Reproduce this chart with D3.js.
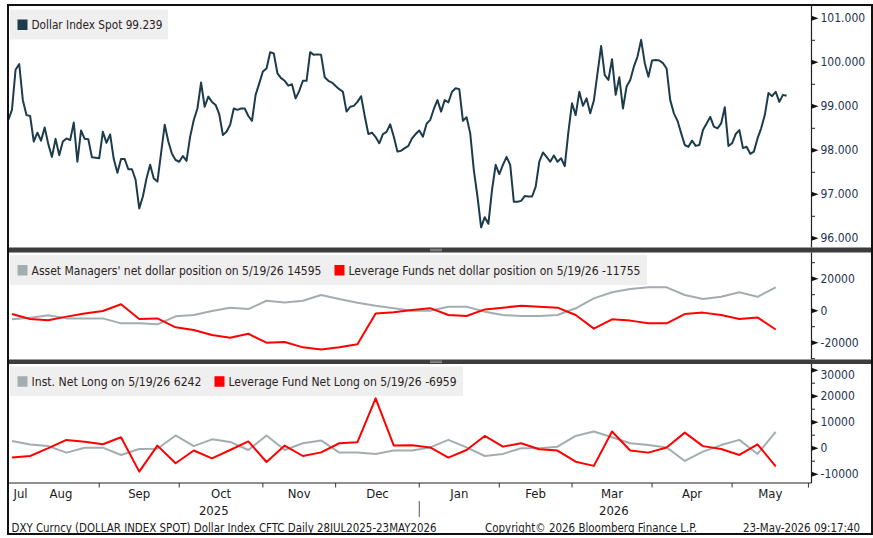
<!DOCTYPE html>
<html>
<head>
<meta charset="utf-8">
<script src="https://cdn.jsdelivr.net/npm/d3@7"></script>
<style>
  body { margin: 0; background: #fff; }
  svg text { font-family: "Liberation Sans Narrow", "DejaVu Sans Condensed", sans-serif; }
</style>
</head>
<body>
<script>
// Dollar Index Spot, one close per business day starting 28 Jul 2025
const dxyStart = "2025-07-28";
const dxyValues = [
  98.69, 98.92, 99.83, 99.96, 99.14, 98.80, 98.78, 98.20, 98.40, 98.22,
  98.52, 98.14, 97.85, 98.26, 97.89, 98.20, 98.27, 98.23, 98.63, 97.74,
  98.45, 98.26, 98.25, 97.84, 97.83, 97.82, 98.42, 98.17, 98.36, 97.80,
  97.49, 97.80, 97.80, 97.57, 97.57, 97.33, 96.68, 96.95, 97.36, 97.67,
  97.36, 97.29, 97.93, 98.58, 98.20, 97.92, 97.78, 97.74, 97.87, 97.76,
  98.31, 98.69, 98.95, 99.54, 98.99, 99.22, 99.10, 99.03, 98.82, 98.35,
  98.42, 98.58, 98.95, 98.92, 98.95, 98.95, 98.78, 98.67, 99.26, 99.52,
  99.79, 99.86, 100.23, 100.20, 99.75, 99.64, 99.58, 99.47, 99.50, 99.18,
  99.35, 99.58, 99.58, 100.23, 100.17, 100.18, 100.17, 99.66, 99.58, 99.54,
  99.46, 99.39, 99.33, 98.88, 98.99, 99.01, 99.10, 99.23, 98.78, 98.37,
  98.40, 98.30, 98.16, 98.37, 98.42, 98.59, 98.31, 97.97, 97.99, 98.05,
  98.10, 98.27, 98.37, 98.45, 98.31, 98.60, 98.69, 98.94, 99.14, 98.88,
  99.14, 99.09, 99.33, 99.41, 99.39, 98.67, 98.75, 98.39, 97.55, 96.95,
  96.25, 96.48, 96.33, 97.10, 97.67, 97.46, 97.67, 97.85, 97.67, 96.83,
  96.83, 96.85, 96.96, 96.95, 96.95, 97.17, 97.74, 97.95, 97.85, 97.74,
  97.88, 97.74, 97.82, 97.64, 98.42, 99.07, 98.80, 99.33, 99.01, 99.18,
  98.84, 99.13, 99.75, 100.37, 99.71, 99.60, 100.07, 99.26, 99.66, 98.95,
  99.45, 99.60, 99.90, 100.13, 100.51, 99.98, 99.67, 100.04, 100.05, 100.04,
  99.98, 99.86, 99.14, 98.84, 98.67, 98.39, 98.12, 98.08, 98.22, 98.10,
  98.12, 98.46, 98.61, 98.76, 98.54, 98.50, 98.61, 98.98, 98.10, 98.16,
  98.37, 98.46, 98.05, 98.08, 97.92, 97.97, 98.27, 98.50, 98.80, 99.30,
  99.23, 99.33, 99.10, 99.26, 99.239
];

// CFTC weekly report dates (Tuesdays)
const cftcDates = [
  "2025-07-29", "2025-08-05", "2025-08-12", "2025-08-19", "2025-08-26",
  "2025-09-02", "2025-09-09", "2025-09-16", "2025-09-23", "2025-09-30",
  "2025-10-07", "2025-10-14", "2025-10-21", "2025-10-28", "2025-11-04",
  "2025-11-11", "2025-11-18", "2025-11-25", "2025-12-02", "2025-12-09",
  "2025-12-16", "2025-12-23", "2025-12-30", "2026-01-06", "2026-01-13",
  "2026-01-20", "2026-01-27", "2026-02-03", "2026-02-10", "2026-02-17",
  "2026-02-24", "2026-03-03", "2026-03-10", "2026-03-17", "2026-03-24",
  "2026-03-31", "2026-04-07", "2026-04-14", "2026-04-21", "2026-04-28",
  "2026-05-05", "2026-05-12", "2026-05-19"
];
const assetMgrNet = [
  -5400, -4400, -2900, -4800, -4800, -4800, -7900, -7900, -8500, -3500,
  -2700, -200, 1900, 1000, 6200, 5200, 6200, 9800, 7300, 5000,
  3100, 1500, 0, 0, 2500, 2500, -600, -2700, -3300, -3300,
  -2700, 1500, 7700, 11500, 13500, 14600, 14600, 9800, 7300, 8700,
  11500, 8700, 14595
];
const levFundNet = [
  -2100, -5200, -6000, -3700, -1700, -200, 4000, -5200, -4800, -10400,
  -12100, -15200, -16900, -14400, -20000, -19600, -22900, -24200, -22900, -21000,
  -1700, -1000, 400, 1600, -2700, -3300, 800, 1900, 3100, 2500,
  1900, -2700, -11200, -5400, -6200, -7900, -7900, -2100, -1200, -2700,
  -5200, -4200, -11755
];
const instNetLong = [
  2800, 1400, 800, -1700, 200, 200, -2600, -300, -200, 4900,
  800, 3400, 2400, -700, 4900, -700, 1900, 3000, -1700, -1700,
  -2200, -900, -900, 300, 3200, 300, -3000, -2200, 0, 0,
  600, 4700, 6400, 4200, 1900, 1200, 300, -4900, -1300, 1200,
  3200, -2200, 6242
];
const levFundNetLong = [
  -3600, -3000, 0, 3200, 2500, 1500, 4200, -9000, 1000, -5800,
  -900, -3900, -700, 2600, -5300, 1000, -3000, -1600, 1900, 2300,
  19200, 1000, 1100, 300, -3600, -700, 4700, 600, 1900, -400,
  -900, -5200, -6800, 6400, -900, -1700, 300, 6000, 800, -300,
  -2600, 1500, -6959
];

const monthStarts = ["2025-07-28", "2025-08-01", "2025-09-01", "2025-10-01", "2025-11-01",
  "2025-12-01", "2026-01-01", "2026-02-01", "2026-03-01", "2026-04-01", "2026-05-01", "2026-06-01"];
const monthLabels = ["Jul", "Aug", "Sep", "Oct", "Nov", "Dec", "Jan", "Feb", "Mar", "Apr", "May"];
const yearLabels = ["2025", "2026"];

const W = 873, H = 538;
const colors = { dxy: "#1c3b4b", gray: "#a3adb0", red: "#ff0000", ink: "#2a2222", axis: "#1e3550" };

const svg = d3.select("body").append("svg").attr("width", W).attr("height", H);

const parse = d3.timeParse("%Y-%m-%d");
const bdays = d3.timeDay.range(parse(dxyStart), parse("2026-06-01"))
  .filter(d => d.getDay() > 0 && d.getDay() < 6);
const bIndex = new Map(bdays.map((d, i) => [+d, i]));
const dayPos = d => { const i = bdays.findIndex(b => b >= d); return i < 0 ? bdays.length : i; };

const plotLeft = 8, plotRight = 811.5;
const x = d3.scaleLinear().domain([0, bdays.length]).range([8.3, 8.3 + bdays.length * 3.637]);
const xd = d => x(bIndex.get(+d));

const fmtDate = d3.timeFormat("%-m/%-d/%y");

const dxy = dxyValues.map((v, i) => ({ d: bdays[i], v }));
const cftc = cftcDates.map(parse);
const toSeries = arr => arr.map((v, i) => ({ d: cftc[i], v }));
const last = arr => arr[arr.length - 1];
const onDate = fmtDate(last(cftc));

// fit a text to a given width, like the terminal's condensed font
const fitText = (sel, w) => sel.attr("textLength", w).attr("lengthAdjust", "spacingAndGlyphs");

const panels = [
  { top: 6, bottom: 247.5, domain: [96, 101], range: [238.3, 18.3], major: d3.range(96, 101.01, 1),
    minor: d3.range(96.5, 101, 1), fmt: d3.format(".3f"),
    series: [{ data: dxy, color: colors.dxy }],
    legend: { box: [10, 9.5, 158, 30], items: [
      { color: colors.dxy, w: 131, text: `Dollar Index Spot ${d3.format(".3f")(last(dxyValues))}` }] } },
  { top: 252.5, bottom: 359.5, domain: [-20000, 20000], range: [342.7, 278.7], major: [-20000, 0, 20000],
    minor: [-30000, -10000, 10000, 30000], fmt: String,
    series: [{ data: toSeries(assetMgrNet), color: colors.gray }, { data: toSeries(levFundNet), color: colors.red }],
    legend: { box: [10, 255, 637, 30], items: [
      { color: colors.gray, w: 290, text: `Asset Managers' net dollar position on ${onDate} ${last(assetMgrNet)}` },
      { color: colors.red, w: 292, text: `Leverage Funds net dollar position on ${onDate} ${last(levFundNet)}` }] } },
  { top: 364, bottom: 483, domain: [-10000, 30000], range: [474.2, 370.2], major: [-10000, 0, 10000, 20000, 30000],
    minor: [-5000, 5000, 15000, 25000], fmt: String,
    series: [{ data: toSeries(instNetLong), color: colors.gray }, { data: toSeries(levFundNetLong), color: colors.red }],
    legend: { box: [10, 366.5, 453, 29.5], items: [
      { color: colors.gray, w: 170, text: `Inst. Net Long on ${onDate} ${last(instNetLong)}` },
      { color: colors.red, w: 228, text: `Leverage Fund Net Long on ${onDate} ${last(levFundNetLong)}` }] } }
];

panels.forEach((p, pi) => {
  const y = d3.scaleLinear().domain(p.domain).range(p.range);
  const g = svg.append("g");

  g.append("clipPath").attr("id", "clip" + pi).append("rect")
    .attr("x", plotLeft).attr("y", p.top).attr("width", plotRight - plotLeft).attr("height", p.bottom - p.top);

  const line = d3.line().x(d => xd(d.d)).y(d => y(d.v));
  p.series.forEach(s => {
    g.append("path").datum(s.data).attr("clip-path", `url(#clip${pi})`)
      .attr("d", line).attr("fill", "none").attr("stroke", s.color)
      .attr("stroke-width", 2).attr("stroke-linejoin", "round");
  });

  // legend
  const lb = p.legend.box;
  g.append("rect").attr("x", lb[0]).attr("y", lb[1]).attr("width", lb[2]).attr("height", lb[3]).attr("fill", "#efefef");
  let lx = lb[0] + 7.5;
  const cy = lb[1] + lb[3] / 2;
  p.legend.items.forEach(it => {
    g.append("rect").attr("x", lx).attr("y", cy - 5).attr("width", 10).attr("height", 10.5).attr("fill", it.color);
    g.append("text").attr("x", lx + 14).attr("y", cy + 4.5).attr("font-size", 13)
      .attr("fill", colors.ink).text(it.text).call(fitText, it.w);
    lx += 14 + it.w + 13;
  });

  // right axis
  g.append("line").attr("x1", plotRight).attr("x2", plotRight).attr("y1", p.top).attr("y2", p.bottom)
    .attr("stroke", "#222").attr("stroke-width", 1.2);
  p.minor.forEach(v => {
    const yy = y(v);
    if (yy < p.top || yy > p.bottom) return;
    g.append("line").attr("x1", plotRight).attr("x2", plotRight + 3.5).attr("y1", yy).attr("y2", yy)
      .attr("stroke", "#222").attr("stroke-width", 1);
  });
  p.major.forEach(v => {
    const yy = y(v);
    g.append("path").attr("d", `M${plotRight},${yy - 2.5}L${plotRight + 7},${yy}L${plotRight},${yy + 2.5}Z`).attr("fill", "#111");
    g.append("text").attr("x", plotRight + 9).attr("y", Math.max(yy, p.top + 11) + 4)
      .attr("font-size", 12).attr("fill", colors.axis).text(p.fmt(v));
  });
});

// x axis: month boundaries and labels under the bottom panel
const axisY = 483;
svg.append("line").attr("x1", plotLeft).attr("x2", plotRight).attr("y1", axisY).attr("y2", axisY)
  .attr("stroke", "#222").attr("stroke-width", 1.2);
const mPos = monthStarts.map(s => dayPos(parse(s)));
mPos.slice(2).forEach(i => {
  svg.append("line").attr("x1", x(i)).attr("x2", x(i)).attr("y1", axisY).attr("y2", axisY + 4.5)
    .attr("stroke", "#333").attr("stroke-width", 1);
});
monthLabels.forEach((m, k) => {
  const cx = Math.max((x(mPos[k]) + x(mPos[k + 1])) / 2, 20.5);
  svg.append("text").attr("x", cx).attr("y", 498).attr("text-anchor", "middle")
    .attr("font-size", 13).attr("fill", "#1a1a1a").text(m);
});
const yearBreak = x(mPos[6]);
svg.append("line").attr("x1", yearBreak).attr("x2", yearBreak).attr("y1", 501).attr("y2", 517)
  .attr("stroke", "#555").attr("stroke-width", 1);
[[x(0), yearBreak], [yearBreak, x(bdays.length)]].forEach((r, k) => {
  svg.append("text").attr("x", (r[0] + r[1]) / 2).attr("y", 514.5).attr("text-anchor", "middle")
    .attr("font-size", 13).attr("fill", "#1a1a1a").text(yearLabels[k]);
});

// panel separators
[[247.5, 5], [359.5, 4.5]].forEach(s => {
  svg.append("rect").attr("x", plotLeft).attr("y", s[0]).attr("width", W - 1 - plotLeft).attr("height", s[1]).attr("fill", "#3c3c3c");
  [0.35, 0.65].forEach(f => svg.append("line").attr("x1", 430).attr("x2", 442)
    .attr("y1", s[0] + s[1] * f).attr("y2", s[0] + s[1] * f).attr("stroke", "#aaa").attr("stroke-width", 0.8));
});

// footer
const foot = [["DXY Curncy (DOLLAR INDEX SPOT) Dollar Index CFTC Daily 28JUL2025-23MAY2026", 11.5, 425, 12],
  ["Copyright\u00A9 2026 Bloomberg Finance L.P.", 485, 212, 12],
  ["23-May-2026 09:17:40", 743, 117, 11.5]];
foot.forEach(f => svg.append("text").attr("x", f[1]).attr("y", 531.5)
  .attr("font-size", f[3]).attr("fill", "#1a1a1a").text(f[0]).call(fitText, f[2]));

// outer frame
svg.append("rect").attr("x", plotLeft).attr("y", 5).attr("width", 864).attr("height", 529)
  .attr("fill", "none").attr("stroke", "#111").attr("stroke-width", 2);
</script>
</body>
</html>
